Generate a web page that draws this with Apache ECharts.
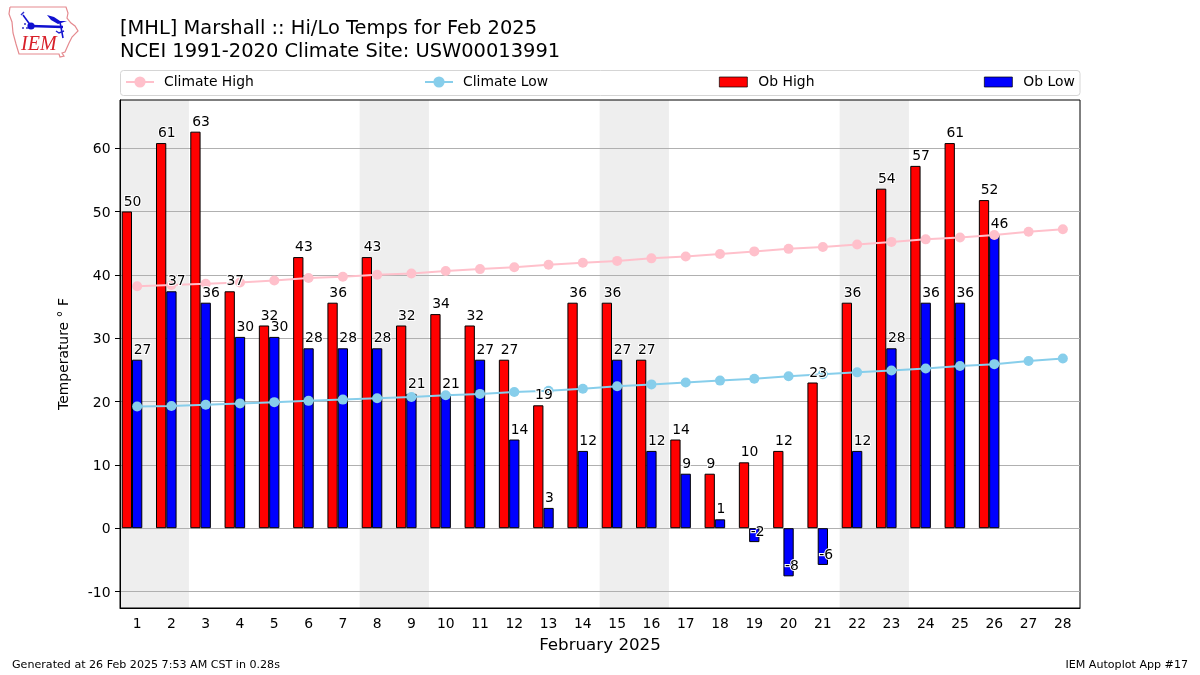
<!DOCTYPE html>
<html><head><meta charset="utf-8">
<script src="https://cdn.jsdelivr.net/npm/echarts@6/dist/echarts.min.js"></script>
<style>html,body{margin:0;padding:0;background:#fff}#c{width:1200px;height:675px}</style>
</head><body><div id="c"></div>
<script>
const days = ['1','2','3','4','5','6','7','8','9','10','11','12','13','14','15','16','17','18','19','20','21','22','23','24','25','26','27','28'];
const climateHigh = [38.2,38.4,38.6,38.8,39.1,39.5,39.7,40.0,40.2,40.6,40.9,41.2,41.6,41.9,42.2,42.6,42.9,43.3,43.7,44.1,44.4,44.8,45.2,45.6,45.9,46.3,46.8,47.2];
const climateLow = [19.2,19.3,19.5,19.7,19.9,20.1,20.3,20.5,20.7,21.0,21.2,21.5,21.7,22.0,22.4,22.7,23.0,23.3,23.6,24.0,24.3,24.6,24.9,25.2,25.6,25.9,26.4,26.8];
const obHigh = [50,60.8,62.6,37.4,32,42.8,35.6,42.8,32,33.8,32,26.6,19.4,35.6,35.6,26.6,14,8.6,10.4,12.2,23,35.6,53.6,57.2,60.8,51.8,null,null];
const obLow = [26.6,37.4,35.6,30.2,30.2,28.4,28.4,28.4,21.2,21.2,26.6,14,3.2,12.2,26.6,12.2,8.6,1.4,-2.2,-7.6,-5.8,12.2,28.4,35.6,35.6,46.4,null,null];
const weekend = [1,1,0,0,0,0,0,1,1,0,0,0,0,0,1,1,0,0,0,0,0,1,1,0,0,0,0,0];
const yTicks = [-10,0,10,20,30,40,50,60];
const titleLines = ['[MHL] Marshall :: Hi/Lo Temps for Feb 2025','NCEI 1991-2020 Climate Site: USW00013991'];

const FONT = '"DejaVu Sans"';
const chart = echarts.init(document.getElementById('c'), null, {renderer:'canvas'});

const labelSeries = (name, values, dx) => ({
  type:'scatter', name, data:values, symbolSize:1, silent:true, z:6,
  itemStyle:{color:'transparent', opacity:1},
  label:{show:true, position:'top', distance:2, align:'left', verticalAlign:'bottom', offset:[dx,0], opacity:1,
    fontFamily:FONT, fontSize:13.9, color:'#000', textBorderColor:'#fff', textBorderWidth:2,
    formatter:p => String(Math.round(p.value))}
});
const legendLine = (name, left) => ({
  data:[{name}], left, top:75, itemWidth:28, itemHeight:14, itemGap:0, padding:0, selectedMode:false,
  textStyle:{fontFamily:FONT, fontSize:13.9, color:'#000', padding:[0,0,0,5]}
});
const legendBar = (name, left) => ({
  data:[{name, icon:'rect'}], left, top:75, itemWidth:28, itemHeight:10, itemGap:0, padding:0, selectedMode:false,
  itemStyle:{borderWidth:0.7, borderColor:'#000'},
  textStyle:{fontFamily:FONT, fontSize:13.9, color:'#000', padding:[0,0,0,6]}
});

chart.setOption({
  animation:false,
  backgroundColor:'#fff',
  textStyle:{fontFamily:FONT},
  title:[
    {text:titleLines.join('\n'), left:120, top:18, padding:0, textStyle:{fontFamily:FONT, fontSize:19.44, fontWeight:'normal', color:'#000', lineHeight:22.5}},
    {text:'Generated at 26 Feb 2025 7:53 AM CST in 0.28s', left:12, top:660, padding:0, textStyle:{fontFamily:FONT, fontSize:11.1, fontWeight:'normal', color:'#000'}},
    {text:'IEM Autoplot App #17', right:12, top:660, padding:0, textStyle:{fontFamily:FONT, fontSize:11.1, fontWeight:'normal', color:'#000'}}
  ],
  legend:[legendLine('Climate High',125), legendLine('Climate Low',424), legendBar('Ob High',719), legendBar('Ob Low',984)],
  grid:{left:120, top:100, width:960, height:508, show:true, borderColor:'#000', borderWidth:1, backgroundColor:'transparent'},
  xAxis:[
    {type:'category', data:days, boundaryGap:true, name:'February 2025', nameLocation:'middle', nameGap:29,
     nameTextStyle:{fontFamily:FONT, fontSize:16.7, color:'#000'},
     axisLine:{onZero:false, lineStyle:{color:'#000'}}, axisTick:{alignWithLabel:true, length:5, lineStyle:{color:'#000'}, interval:0},
     axisLabel:{interval:0, fontFamily:FONT, fontSize:13.9, color:'#000', margin:9}, splitLine:{show:false}},
    {type:'category', data:days, show:false, boundaryGap:true}
  ],
  yAxis:[
    {type:'value', min:-12.6, max:67.6, name:'Temperature ° F', nameLocation:'middle', nameGap:49,
     nameTextStyle:{fontFamily:FONT, fontSize:13.9, color:'#000'},
     axisLine:{show:true, lineStyle:{color:'#000'}},
     axisTick:{show:true, length:5, lineStyle:{color:'#000'}, customValues:yTicks},
     axisLabel:{fontFamily:FONT, fontSize:13.9, color:'#000', margin:9.5, customValues:yTicks, formatter:v=>`{a|${v}}`,
       rich:{a:{fontFamily:FONT, fontSize:13.9, color:'#000', padding:[3,0,0,0]}}},
     splitLine:{show:true, lineStyle:{color:'#b0b0b0', width:1}}},
    {type:'value', min:0, max:1, show:false}
  ],
  series:[
    {type:'bar', name:'Weekend', xAxisIndex:1, yAxisIndex:1, data:weekend, barWidth:'102%', silent:true, z:-1,
     itemStyle:{color:'#eeeeee'}},
    {type:'bar', name:'Ob High', data:obHigh, barWidth:'30%', barGap:'0%', z:2,
     itemStyle:{color:'#ff0000', borderColor:'#000', borderWidth:1}},
    {type:'bar', name:'Ob Low', data:obLow, barWidth:'30%', barGap:'0%', z:2,
     itemStyle:{color:'#0000ff', borderColor:'#000', borderWidth:1}},
    {type:'bar', name:'Offset', data:[], barWidth:'30%', barGap:'0%', z:2},
    {type:'line', name:'Climate High', data:climateHigh, symbol:'circle', symbolSize:10, showSymbol:true, z:4,
     itemStyle:{color:'#ffc0cb'}, lineStyle:{color:'#ffc0cb', width:2}},
    {type:'line', name:'Climate Low', data:climateLow, symbol:'circle', symbolSize:10, showSymbol:true, z:4,
     itemStyle:{color:'#87ceeb'}, lineStyle:{color:'#87ceeb', width:2}},
    labelSeries('High labels', obHigh, -13.5),
    labelSeries('Low labels', obLow, -3.5)
  ],
  graphic:[
    {type:'rect', z:-2, shape:{x:120.5,y:70.5,width:959.5,height:25,r:3}, style:{fill:'#fff', stroke:'#d5d5d5', lineWidth:1}},
    {type:'polyline', z:1, shape:{points:[[10,7],[66,7],[68,13],[67,18],[71,23],[75,26],[78,31],[72,37],[69,43],[65,52],[62,53],[64,56],[60,57],[59,54],[19,54],[16,44],[13,33],[12,22],[9,14],[10,7]]}, style:{fill:'none', stroke:'#e58a8f', lineWidth:1.2}},
    {type:'line', z:1, shape:{x1:31,y1:26,x2:63,y2:27}, style:{stroke:'#1010d0', lineWidth:2.4}},
    {type:'line', z:1, shape:{x1:31,y1:26,x2:23,y2:15}, style:{stroke:'#1010d0', lineWidth:1.6}},
    {type:'polyline', z:1, shape:{points:[[21,15],[24,12]]}, style:{fill:'none', stroke:'#3030d0', lineWidth:1.4}},
    {type:'line', z:1, shape:{x1:60,y1:22,x2:63,y2:38}, style:{stroke:'#1010d0', lineWidth:1.6}},
    {type:'polyline', z:1, shape:{points:[[56,31],[59,33],[64,31]]}, style:{fill:'none', stroke:'#2020d0', lineWidth:1.4}},
    {type:'polygon', z:1, shape:{points:[[47,15],[54,17],[60,21],[67,21],[58,24],[51,20]]}, style:{fill:'#1010d0'}},
    {type:'circle', z:1, shape:{cx:31,cy:26,r:3.6}, style:{fill:'#1010d0'}},
    {type:'circle', z:1, shape:{cx:25,cy:24,r:1}, style:{fill:'#3030c0'}},
    {type:'circle', z:1, shape:{cx:23,cy:28,r:1}, style:{fill:'#3030c0'}},
    {type:'circle', z:1, shape:{cx:27,cy:28,r:1}, style:{fill:'#3030c0'}},
    {type:'text', z:1, left:21, top:35, style:{text:'IEM', fontFamily:'"Liberation Serif"', fontStyle:'italic', fontSize:20, fill:'#d8202a'}}
  ]
});
</script></body></html>
